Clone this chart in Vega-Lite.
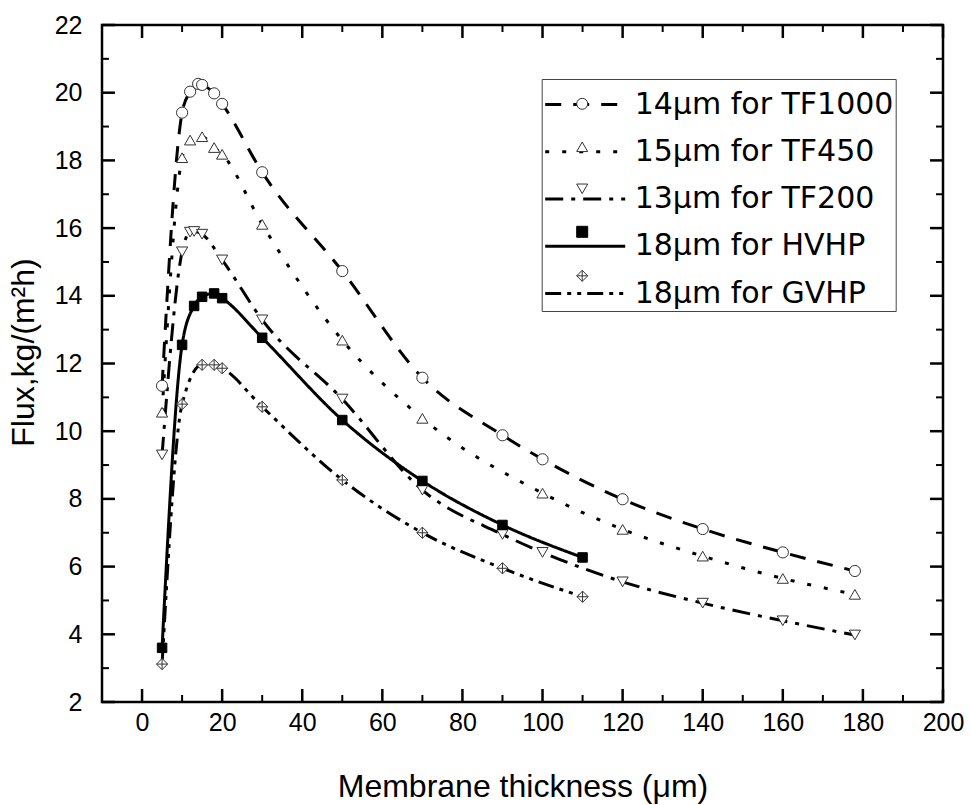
{
  "$schema": "https://vega.github.io/schema/vega-lite/v6.json",
  "width": 841,
  "height": 677,
  "autosize": "none",
  "padding": {"left": 102, "top": 25, "right": 27, "bottom": 103},
  "background": "white",
  "config": {
    "view": {"stroke": "black", "strokeWidth": 2.5},
    "axis": {"domain": false, "ticks": false, "grid": false, "labelFont": "Liberation Sans", "labelFontSize": 25, "labelColor": "black", "titleFont": "Liberation Sans", "titleFontSize": 32, "titleFontWeight": "normal", "titleColor": "black", "labelFlush": false, "labelOverlap": false}
  },
  "datasets": {
    "pts": [
      {"series": "14μm for TF1000", "order": 1, "x": 5, "y": 11.34},
      {"series": "14μm for TF1000", "order": 1, "x": 10, "y": 19.41},
      {"series": "14μm for TF1000", "order": 1, "x": 12, "y": 20.03},
      {"series": "14μm for TF1000", "order": 1, "x": 14, "y": 20.26},
      {"series": "14μm for TF1000", "order": 1, "x": 15, "y": 20.23},
      {"series": "14μm for TF1000", "order": 1, "x": 18, "y": 19.98},
      {"series": "14μm for TF1000", "order": 1, "x": 20, "y": 19.67},
      {"series": "14μm for TF1000", "order": 1, "x": 30, "y": 17.65},
      {"series": "14μm for TF1000", "order": 1, "x": 50, "y": 14.73},
      {"series": "14μm for TF1000", "order": 1, "x": 70, "y": 11.58},
      {"series": "14μm for TF1000", "order": 1, "x": 90, "y": 9.88},
      {"series": "14μm for TF1000", "order": 1, "x": 100, "y": 9.17},
      {"series": "14μm for TF1000", "order": 1, "x": 120, "y": 7.99},
      {"series": "14μm for TF1000", "order": 1, "x": 140, "y": 7.11},
      {"series": "14μm for TF1000", "order": 1, "x": 160, "y": 6.42},
      {"series": "14μm for TF1000", "order": 1, "x": 178, "y": 5.87},
      {"series": "15μm for TF450", "order": 2, "x": 5, "y": 10.56},
      {"series": "15μm for TF450", "order": 2, "x": 10, "y": 18.08},
      {"series": "15μm for TF450", "order": 2, "x": 12, "y": 18.6},
      {"series": "15μm for TF450", "order": 2, "x": 15, "y": 18.7},
      {"series": "15μm for TF450", "order": 2, "x": 18, "y": 18.38},
      {"series": "15μm for TF450", "order": 2, "x": 20, "y": 18.18},
      {"series": "15μm for TF450", "order": 2, "x": 30, "y": 16.11},
      {"series": "15μm for TF450", "order": 2, "x": 50, "y": 12.69},
      {"series": "15μm for TF450", "order": 2, "x": 70, "y": 10.38},
      {"series": "15μm for TF450", "order": 2, "x": 100, "y": 8.17},
      {"series": "15μm for TF450", "order": 2, "x": 120, "y": 7.1},
      {"series": "15μm for TF450", "order": 2, "x": 140, "y": 6.31},
      {"series": "15μm for TF450", "order": 2, "x": 160, "y": 5.65},
      {"series": "15μm for TF450", "order": 2, "x": 178, "y": 5.18},
      {"series": "13μm for TF200", "order": 3, "x": 5, "y": 9.3},
      {"series": "13μm for TF200", "order": 3, "x": 10, "y": 15.3},
      {"series": "13μm for TF200", "order": 3, "x": 12, "y": 15.88},
      {"series": "13μm for TF200", "order": 3, "x": 13, "y": 15.9},
      {"series": "13μm for TF200", "order": 3, "x": 15, "y": 15.82},
      {"series": "13μm for TF200", "order": 3, "x": 20, "y": 15.06},
      {"series": "13μm for TF200", "order": 3, "x": 30, "y": 13.29},
      {"series": "13μm for TF200", "order": 3, "x": 50, "y": 10.95},
      {"series": "13μm for TF200", "order": 3, "x": 70, "y": 8.26},
      {"series": "13μm for TF200", "order": 3, "x": 90, "y": 6.95},
      {"series": "13μm for TF200", "order": 3, "x": 100, "y": 6.42},
      {"series": "13μm for TF200", "order": 3, "x": 120, "y": 5.55},
      {"series": "13μm for TF200", "order": 3, "x": 140, "y": 4.92},
      {"series": "13μm for TF200", "order": 3, "x": 160, "y": 4.4},
      {"series": "13μm for TF200", "order": 3, "x": 178, "y": 3.98},
      {"series": "18μm for HVHP", "order": 4, "x": 5, "y": 3.6},
      {"series": "18μm for HVHP", "order": 4, "x": 10, "y": 12.55},
      {"series": "18μm for HVHP", "order": 4, "x": 13, "y": 13.7},
      {"series": "18μm for HVHP", "order": 4, "x": 15, "y": 13.97},
      {"series": "18μm for HVHP", "order": 4, "x": 18, "y": 14.07},
      {"series": "18μm for HVHP", "order": 4, "x": 20, "y": 13.93},
      {"series": "18μm for HVHP", "order": 4, "x": 30, "y": 12.76},
      {"series": "18μm for HVHP", "order": 4, "x": 50, "y": 10.33},
      {"series": "18μm for HVHP", "order": 4, "x": 70, "y": 8.53},
      {"series": "18μm for HVHP", "order": 4, "x": 90, "y": 7.23},
      {"series": "18μm for HVHP", "order": 4, "x": 110, "y": 6.27},
      {"series": "18μm for GVHP", "order": 5, "x": 5, "y": 3.12},
      {"series": "18μm for GVHP", "order": 5, "x": 10, "y": 10.8},
      {"series": "18μm for GVHP", "order": 5, "x": 15, "y": 11.96},
      {"series": "18μm for GVHP", "order": 5, "x": 18, "y": 11.96},
      {"series": "18μm for GVHP", "order": 5, "x": 20, "y": 11.86},
      {"series": "18μm for GVHP", "order": 5, "x": 30, "y": 10.72},
      {"series": "18μm for GVHP", "order": 5, "x": 50, "y": 8.56},
      {"series": "18μm for GVHP", "order": 5, "x": 70, "y": 7.0},
      {"series": "18μm for GVHP", "order": 5, "x": 90, "y": 5.95},
      {"series": "18μm for GVHP", "order": 5, "x": 110, "y": 5.11}
    ],
    "xmaj": [{"v": 0}, {"v": 20}, {"v": 40}, {"v": 60}, {"v": 80}, {"v": 100}, {"v": 120}, {"v": 140}, {"v": 160}, {"v": 180}, {"v": 200}],
    "xmin": [{"v": 10}, {"v": 30}, {"v": 50}, {"v": 70}, {"v": 90}, {"v": 110}, {"v": 130}, {"v": 150}, {"v": 170}, {"v": 190}],
    "ymaj": [{"v": 2}, {"v": 4}, {"v": 6}, {"v": 8}, {"v": 10}, {"v": 12}, {"v": 14}, {"v": 16}, {"v": 18}, {"v": 20}, {"v": 22}],
    "ymin": [{"v": 3}, {"v": 5}, {"v": 7}, {"v": 9}, {"v": 11}, {"v": 13}, {"v": 15}, {"v": 17}, {"v": 19}, {"v": 21}]
  },
  "data": {"name": "pts"},
  "layer": [
    {
      "mark": {"type": "line", "interpolate": "monotone", "strokeWidth": 3, "color": "black"},
      "encoding": {
        "x": {"field": "x", "type": "quantitative", "scale": {"domain": [-10, 200], "nice": false, "zero": false},
              "axis": {"orient": "bottom", "values": [0, 20, 40, 60, 80, 100, 120, 140, 160, 180, 200], "labelPadding": 8, "title": "Membrane thickness (μm)", "titleBaseline": "alphabetic", "titleY": 94}},
        "y": {"field": "y", "type": "quantitative", "scale": {"domain": [2, 22], "nice": false, "zero": false},
              "axis": {"orient": "left", "values": [2, 4, 6, 8, 10, 12, 14, 16, 18, 20, 22], "labelPadding": 20, "title": "Flux,kg/(m²h)", "titleBaseline": "middle", "titleX": -79, "titleY": 327}},
        "strokeDash": {"field": "series", "type": "nominal",
          "scale": {"domain": ["14μm for TF1000", "15μm for TF450", "13μm for TF200", "18μm for HVHP", "18μm for GVHP"],
                    "range": [[16, 12], [4, 13], [18, 8, 4, 8], [1, 0], [16, 6, 4, 6, 4, 6]]},
          "legend": {"orient": "none", "legendX": 439.7, "legendY": 54, "title": null,
                     "symbolType": "M-1,0H2.636", "symbolSize": 1936, "symbolStrokeWidth": 3, "symbolStrokeColor": "black",
                     "labelFont": "DejaVu Sans", "labelFontSize": 30, "labelColor": "black", "labelOffset": 44, "labelLimit": 500,
                     "rowPadding": 8.25, "padding": 2, "strokeColor": "#444"}}
      }
    },
    {
      "mark": {"type": "point", "filled": true, "strokeWidth": 1, "opacity": 1},
      "encoding": {
        "x": {"field": "x", "type": "quantitative"},
        "y": {"field": "y", "type": "quantitative"},
        "shape": {"field": "series", "type": "nominal", "sort": {"field": "order", "op": "min"},
          "scale": {"range": ["circle", "triangle-up", "triangle-down", "square", "M0,-1L1,0L0,1L-1,0Z M0,-1L0,1 M-1,0L1,0"]},
          "legend": {"orient": "none", "legendX": 474.2, "legendY": 72.8, "title": null, "symbolSize": 121, "symbolStrokeWidth": 1, "labelExpr": "''", "labelFontSize": 1, "rowPadding": 28, "padding": 0}},
        "fill": {"field": "series", "type": "nominal", "sort": {"field": "order", "op": "min"},
          "scale": {"range": ["white", "white", "white", "black", "white"]},
          "legend": {"orient": "none", "legendX": 474.2, "legendY": 72.8, "title": null, "symbolSize": 121, "symbolStrokeWidth": 1, "labelExpr": "''", "labelFontSize": 1, "rowPadding": 28, "padding": 0}},
        "stroke": {"field": "series", "type": "nominal", "sort": {"field": "order", "op": "min"},
          "scale": {"range": ["#333333", "#333333", "#333333", "#000000", "#333333"]},
          "legend": {"orient": "none", "legendX": 474.2, "legendY": 72.8, "title": null, "symbolSize": 121, "symbolStrokeWidth": 1, "labelExpr": "''", "labelFontSize": 1, "rowPadding": 28, "padding": 0}},
        "size": {"condition": {"test": "datum.series === '18μm for HVHP'", "value": 90}, "value": 125}
      }
    },
    {"data": {"name": "xmaj"}, "mark": {"type": "rule", "color": "black", "strokeWidth": 2.5, "opacity": 1},
     "encoding": {"x": {"field": "v", "type": "quantitative"}, "y": {"datum": 2, "type": "quantitative"}, "y2": {"datum": 2.384}}},
    {"data": {"name": "xmaj"}, "mark": {"type": "rule", "color": "black", "strokeWidth": 2.5, "opacity": 1},
     "encoding": {"x": {"field": "v", "type": "quantitative"}, "y": {"datum": 22, "type": "quantitative"}, "y2": {"datum": 21.616}}},
    {"data": {"name": "xmin"}, "mark": {"type": "rule", "color": "black", "strokeWidth": 2, "opacity": 1},
     "encoding": {"x": {"field": "v", "type": "quantitative"}, "y": {"datum": 2, "type": "quantitative"}, "y2": {"datum": 2.207}}},
    {"data": {"name": "xmin"}, "mark": {"type": "rule", "color": "black", "strokeWidth": 2, "opacity": 1},
     "encoding": {"x": {"field": "v", "type": "quantitative"}, "y": {"datum": 22, "type": "quantitative"}, "y2": {"datum": 21.793}}},
    {"data": {"name": "ymaj"}, "mark": {"type": "rule", "color": "black", "strokeWidth": 2.5, "opacity": 1},
     "encoding": {"y": {"field": "v", "type": "quantitative"}, "x": {"datum": -10, "type": "quantitative"}, "x2": {"datum": -6.76}}},
    {"data": {"name": "ymaj"}, "mark": {"type": "rule", "color": "black", "strokeWidth": 2.5, "opacity": 1},
     "encoding": {"y": {"field": "v", "type": "quantitative"}, "x": {"datum": 200, "type": "quantitative"}, "x2": {"datum": 196.76}}},
    {"data": {"name": "ymin"}, "mark": {"type": "rule", "color": "black", "strokeWidth": 2, "opacity": 1},
     "encoding": {"y": {"field": "v", "type": "quantitative"}, "x": {"datum": -10, "type": "quantitative"}, "x2": {"datum": -8.26}}},
    {"data": {"name": "ymin"}, "mark": {"type": "rule", "color": "black", "strokeWidth": 2, "opacity": 1},
     "encoding": {"y": {"field": "v", "type": "quantitative"}, "x": {"datum": 200, "type": "quantitative"}, "x2": {"datum": 198.26}}}
  ]
}
